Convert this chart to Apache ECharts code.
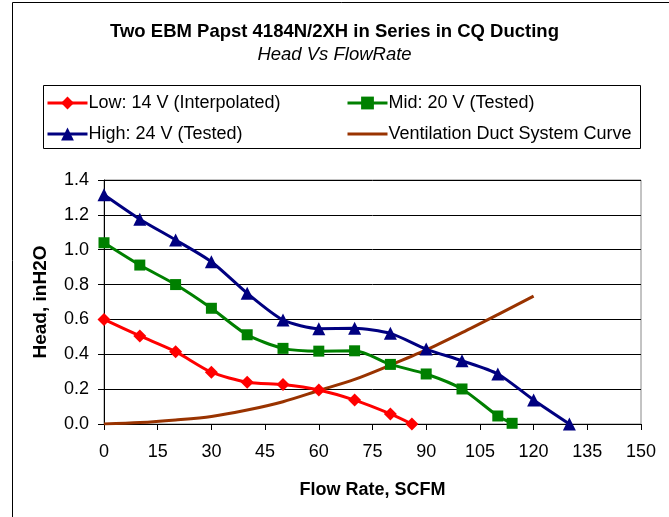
<!DOCTYPE html>
<html><head><meta charset="utf-8">
<script src="https://cdn.jsdelivr.net/npm/echarts@6/dist/echarts.min.js"></script>
<style>html,body{margin:0;padding:0;background:#fff}#c{width:669px;height:517px}</style>
</head><body><div id="c"></div>
<script>
const xTicks = [0,15,30,45,60,75,90,105,120,135,150];
const yTicks = [0.0,0.2,0.4,0.6,0.8,1.0,1.2,1.4];

const lowFlow  = [0,10,20,30,40,50,60,70,80,86];
const lowHead  = [0.60,0.505,0.415,0.297,0.24,0.226,0.195,0.137,0.058,0.0];

const midFlow  = [0,10,20,30,40,50,60,70,80,90,100,110,114];
const midHead  = [1.04,0.912,0.80,0.664,0.512,0.434,0.418,0.42,0.342,0.287,0.201,0.046,0.004];

const highFlow = [0,10,20,30,40,50,60,70,80,90,100,110,120,130];
const highHead = [1.315,1.175,1.056,0.931,0.75,0.597,0.547,0.549,0.52,0.43,0.363,0.287,0.138,0.0];

const ductFlow = [0,10,20,30,40,50,60,70,80,90,100,110,120];
const ductHead = [0.0,0.008,0.023,0.043,0.08,0.128,0.192,0.256,0.338,0.425,0.524,0.628,0.734];

const pairs = (xs, ys) => xs.map((x, i) => [x, ys[i]]);
const FONT = 'Liberation Sans';
const legendText = { fontFamily: FONT, fontSize: 18, color: '#000', padding: [0,0,0,-4] };

const chart = echarts.init(document.getElementById('c'));
chart.setOption({
  animation: false,
  textStyle: { fontFamily: FONT },
  title: {
    text: 'Two EBM Papst 4184N/2XH in Series in CQ Ducting',
    subtext: 'Head Vs FlowRate',
    left: 'center', top: 17, itemGap: 4,
    textStyle: { fontFamily: FONT, fontSize: 18.5, fontWeight: 'bold', color: '#000' },
    subtextStyle: { fontFamily: FONT, fontSize: 18.5, fontStyle: 'italic', color: '#000' }
  },
  graphic: [
    { type: 'rect', shape: { x: 12.5, y: 2.5, width: 700, height: 560 }, style: { fill: 'none', stroke: '#000', lineWidth: 1 }, z: -1 },
    { type: 'rect', shape: { x: 43.5, y: 85.5, width: 597, height: 63 }, style: { fill: 'none', stroke: '#000', lineWidth: 1 } }
  ],
  legend: [
    { data: ['Low: 14 V (Interpolated)', 'High: 24 V (Tested)'], orient: 'vertical', left: 46, top: 94, padding: 0, itemGap: 13, itemWidth: 40, itemHeight: 16,
      lineStyle: { width: 3 }, textStyle: legendText },
    { data: ['Mid: 20 V (Tested)', { name: 'Ventilation Duct System Curve', icon: 'path://M0,0H40V3H0Z' }], orient: 'vertical', left: 346, top: 94, padding: 0, itemGap: 13, itemWidth: 40, itemHeight: 16,
      lineStyle: { width: 3 }, textStyle: legendText }
  ],
  grid: { left: 104, right: 28, top: 180, bottom: 93, show: true, borderColor: '#888', borderWidth: 1 },
  xAxis: {
    type: 'value', min: 0, max: 150, interval: 15,
    name: 'Flow Rate, SCFM', nameLocation: 'middle', nameGap: 57,
    nameTextStyle: { fontFamily: FONT, fontSize: 18, fontWeight: 'bold', color: '#000' },
    axisLine: { lineStyle: { color: '#000', width: 1 } },
    axisTick: { show: true, length: 6, lineStyle: { color: '#000' } },
    axisLabel: { fontFamily: FONT, fontSize: 18, color: '#000', margin: 19, formatter: v => String(v) },
    splitLine: { show: false }
  },
  yAxis: {
    type: 'value', min: 0, max: 1.4, interval: 0.2,
    name: 'Head, inH2O', nameLocation: 'middle', nameGap: 54,
    nameTextStyle: { fontFamily: FONT, fontSize: 19, fontWeight: 'bold', color: '#000' },
    axisLine: { show: true, lineStyle: { color: '#000', width: 1 } },
    axisTick: { show: true, length: 6, lineStyle: { color: '#000' } },
    axisLabel: { fontFamily: FONT, fontSize: 18, color: '#000', margin: 15, formatter: v => v.toFixed(1) },
    splitLine: { show: true, lineStyle: { color: '#000', width: 1 } }
  },
  series: [
    { name: 'Low: 14 V (Interpolated)', type: 'line', data: pairs(lowFlow, lowHead), smooth: 0.25,
      symbol: 'diamond', symbolSize: 13, itemStyle: { color: '#FF0000' }, lineStyle: { color: '#FF0000', width: 3 }, z: 4 },
    { name: 'Mid: 20 V (Tested)', type: 'line', data: pairs(midFlow, midHead), smooth: 0.25,
      symbol: 'rect', symbolSize: 11, itemStyle: { color: '#008000' }, lineStyle: { color: '#008000', width: 3 }, z: 3 },
    { name: 'High: 24 V (Tested)', type: 'line', data: pairs(highFlow, highHead), smooth: 0.25,
      symbol: 'triangle', symbolSize: 13, itemStyle: { color: '#000080' }, lineStyle: { color: '#000080', width: 3 }, z: 3 },
    { name: 'Ventilation Duct System Curve', type: 'line', data: pairs(ductFlow, ductHead), smooth: 0.3,
      showSymbol: false, symbol: 'none', itemStyle: { color: '#993300' }, lineStyle: { color: '#993300', width: 3 }, z: 2 }
  ]
});
</script></body></html>
